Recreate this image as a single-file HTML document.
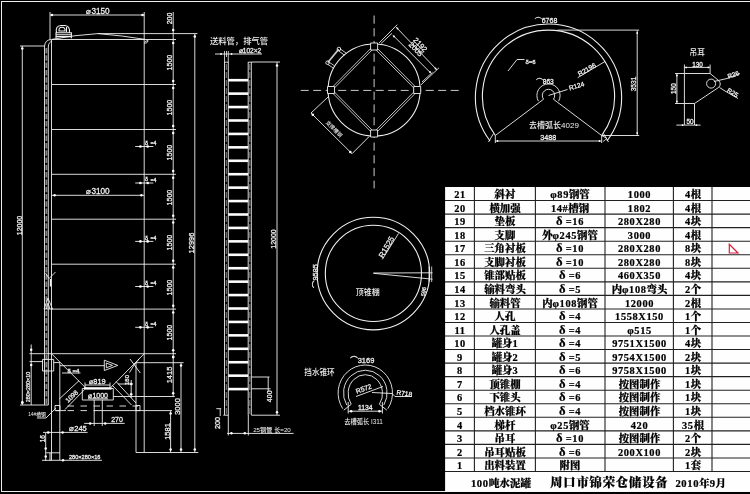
<!DOCTYPE html>
<html lang="zh"><head><meta charset="utf-8"><title>100吨水泥罐</title>
<style>
html,body{margin:0;padding:0;background:#000;}
body{width:750px;height:494px;overflow:hidden;}
svg{display:block;will-change:transform;opacity:0.999;}
text.d{font-family:"Liberation Sans","Noto Sans CJK SC",sans-serif;stroke:#f0f0f0;stroke-width:0.28px;}
text.dc{font-family:"Liberation Sans","Noto Sans CJK SC",sans-serif;font-weight:500;}
text.t{font-family:"Liberation Serif","Noto Serif CJK SC",serif;font-weight:900;stroke:#000;stroke-width:0.22px;}
text.t tspan.g{font-size:12.6px;}
</style></head><body>
<svg width="750" height="494" viewBox="0 0 750 494">
<rect width="750" height="494" fill="#000"/>
<g stroke="#e6e6e6" stroke-width="1" fill="none">
<line x1="1.00" y1="1.50" x2="750.00" y2="1.50" stroke="#eee"/>
<line x1="1.50" y1="1.00" x2="1.50" y2="492.00" stroke="#eee"/>
<line x1="1.00" y1="491.50" x2="750.00" y2="491.50" stroke="#eee"/>
</g>
<g stroke="#f2f2f2" stroke-width="0.9" fill="none" stroke-linecap="butt">
<line x1="51.50" y1="39.50" x2="51.50" y2="460.00"/>
<line x1="144.20" y1="12.00" x2="144.20" y2="452.50"/>
<line x1="50.00" y1="12.00" x2="50.00" y2="40.00"/>
<line x1="51.50" y1="39.50" x2="176.00" y2="39.50"/>
<line x1="51.50" y1="84.50" x2="176.00" y2="84.50"/>
<line x1="51.50" y1="129.50" x2="176.00" y2="129.50"/>
<line x1="51.50" y1="174.30" x2="176.00" y2="174.30"/>
<line x1="51.50" y1="219.20" x2="176.00" y2="219.20"/>
<line x1="51.50" y1="264.20" x2="176.00" y2="264.20"/>
<line x1="51.50" y1="309.10" x2="176.00" y2="309.10"/>
<line x1="29.50" y1="353.70" x2="176.00" y2="353.70"/>
<path d="M52,39.3 Q75,35 98,33.6 Q122,35.5 144.5,39.3"/>
<line x1="50.00" y1="15.00" x2="144.50" y2="15.00"/>
<circle cx="52.00" cy="15.00" r="1.25" fill="#fff" stroke="none"/>
<circle cx="142.50" cy="15.00" r="1.25" fill="#fff" stroke="none"/>
<line x1="51.70" y1="195.30" x2="144.20" y2="195.30"/>
<circle cx="54.60" cy="195.30" r="1.25" fill="#fff" stroke="none"/>
<circle cx="141.40" cy="195.30" r="1.25" fill="#fff" stroke="none"/>
<path d="M56,38.2 V32.8 H71.4 V38.2 M56,34.8 H71.4 M56,36.6 H71.4 M56.6,32.8 Q55,26 61,25.5 H65 Q70.2,26 69.4,32.8 M59,31 Q58.5,27.3 62,27.3 Q65.5,27.3 65,31 Z M66.5,27 V32" stroke-width="1.1"/>
<path d="M44.5,405 V47 Q44.5,39.8 51.5,39.5"/>
<path d="M48.3,405 V47 Q48.5,42 52,41.5"/>
<line x1="46.40" y1="48.00" x2="46.40" y2="405.00" stroke-width="1.9" stroke="#858585" stroke-dasharray="5.5 1.8"/>
<line x1="22.30" y1="46.00" x2="22.30" y2="405.00"/>
<line x1="20.00" y1="46.00" x2="44.50" y2="46.00"/>
<line x1="20.00" y1="405.00" x2="48.30" y2="405.00"/>
<circle cx="22.30" cy="48.50" r="1.25" fill="#fff" stroke="none"/>
<circle cx="22.30" cy="402.50" r="1.25" fill="#fff" stroke="none"/>
<line x1="173.20" y1="12.00" x2="173.20" y2="396.50"/>
<line x1="98.00" y1="33.60" x2="197.40" y2="33.60"/>
<circle cx="173.20" cy="42.90" r="1.25" fill="#fff" stroke="none"/>
<circle cx="173.20" cy="81.10" r="1.25" fill="#fff" stroke="none"/>
<circle cx="173.20" cy="87.90" r="1.25" fill="#fff" stroke="none"/>
<circle cx="173.20" cy="126.10" r="1.25" fill="#fff" stroke="none"/>
<circle cx="173.20" cy="132.90" r="1.25" fill="#fff" stroke="none"/>
<circle cx="173.20" cy="170.90" r="1.25" fill="#fff" stroke="none"/>
<circle cx="173.20" cy="177.70" r="1.25" fill="#fff" stroke="none"/>
<circle cx="173.20" cy="215.80" r="1.25" fill="#fff" stroke="none"/>
<circle cx="173.20" cy="222.60" r="1.25" fill="#fff" stroke="none"/>
<circle cx="173.20" cy="260.80" r="1.25" fill="#fff" stroke="none"/>
<circle cx="173.20" cy="267.60" r="1.25" fill="#fff" stroke="none"/>
<circle cx="173.20" cy="305.70" r="1.25" fill="#fff" stroke="none"/>
<circle cx="173.20" cy="312.50" r="1.25" fill="#fff" stroke="none"/>
<circle cx="173.20" cy="350.30" r="1.25" fill="#fff" stroke="none"/>
<circle cx="173.20" cy="357.10" r="1.25" fill="#fff" stroke="none"/>
<circle cx="173.20" cy="30.00" r="1.25" fill="#fff" stroke="none"/>
<path d="M144.5,43.5 Q145,40.5 148,40.5 Q148.5,42 145.5,43.5" stroke-width="0.9"/>
<line x1="135.20" y1="146.50" x2="153.40" y2="146.50"/>
<circle cx="140.40" cy="146.50" r="1.35" fill="#fff" stroke="none"/>
<circle cx="147.70" cy="146.50" r="1.35" fill="#fff" stroke="none"/>
<line x1="135.20" y1="183.00" x2="153.40" y2="183.00"/>
<circle cx="140.40" cy="183.00" r="1.35" fill="#fff" stroke="none"/>
<circle cx="147.70" cy="183.00" r="1.35" fill="#fff" stroke="none"/>
<line x1="135.20" y1="241.40" x2="153.40" y2="241.40"/>
<circle cx="140.40" cy="241.40" r="1.35" fill="#fff" stroke="none"/>
<circle cx="147.70" cy="241.40" r="1.35" fill="#fff" stroke="none"/>
<line x1="135.20" y1="286.50" x2="153.40" y2="286.50"/>
<circle cx="140.40" cy="286.50" r="1.35" fill="#fff" stroke="none"/>
<circle cx="147.70" cy="286.50" r="1.35" fill="#fff" stroke="none"/>
<line x1="135.20" y1="327.30" x2="153.40" y2="327.30"/>
<circle cx="140.40" cy="327.30" r="1.35" fill="#fff" stroke="none"/>
<circle cx="147.70" cy="327.30" r="1.35" fill="#fff" stroke="none"/>
<line x1="194.80" y1="33.70" x2="194.80" y2="452.30"/>
<circle cx="194.80" cy="36.50" r="1.25" fill="#fff" stroke="none"/>
<circle cx="194.80" cy="449.50" r="1.25" fill="#fff" stroke="none"/>
<path d="M44,309 L48,298 L52.5,309 Z M46.5,309 L48,303 L50,309"/>
<path d="M45.5,273 L49.1,278.5 L55.5,272"/>
<line x1="50.40" y1="279.00" x2="50.40" y2="286.50" stroke-width="1.2"/>
<line x1="51.50" y1="353.70" x2="85.30" y2="387.50"/>
<line x1="144.20" y1="353.70" x2="110.80" y2="387.50"/>
<path d="M59.5,398.8 L79.2,380.5 M65,409.5 L84.6,389.5"/>
<path d="M136,403 L116,381.5 M131.5,405 L112.5,385.5"/>
<path d="M82.3,388.5 H113.3 V400 H82.3 Z"/>
<line x1="84.00" y1="388.40" x2="111.50" y2="388.40" stroke-width="2.4" stroke="#fff"/>
<line x1="85.00" y1="385.00" x2="110.00" y2="385.00"/>
<line x1="85.00" y1="382.50" x2="85.00" y2="388.00"/>
<line x1="110.00" y1="382.50" x2="110.00" y2="388.00"/>
<line x1="113.30" y1="396.50" x2="174.80" y2="396.50"/>
<line x1="88.00" y1="398.80" x2="108.00" y2="398.80"/>
<line x1="67.50" y1="406.00" x2="138.00" y2="406.00" stroke-dasharray="6.5 6.5"/>
<line x1="56.00" y1="410.60" x2="66.00" y2="410.60"/>
<line x1="67.50" y1="410.60" x2="94.00" y2="410.60" stroke-dasharray="6.5 6.5"/>
<line x1="94.00" y1="410.60" x2="172.00" y2="410.60"/>
<path d="M55,405.5 H60 V410.6 H55 Z M136,405.5 H140 V410.6 H136 Z"/>
<line x1="59.80" y1="363.00" x2="59.80" y2="460.00"/>
<line x1="136.00" y1="362.70" x2="136.00" y2="452.50"/>
<line x1="136.00" y1="452.50" x2="198.30" y2="452.50"/>
<line x1="45.70" y1="452.80" x2="60.00" y2="452.80"/>
<line x1="42.00" y1="460.30" x2="102.00" y2="460.30"/>
<line x1="45.70" y1="433.00" x2="45.70" y2="461.00"/>
<circle cx="45.70" cy="448.50" r="1.25" fill="#fff" stroke="none"/>
<circle cx="45.70" cy="456.50" r="1.25" fill="#fff" stroke="none"/>
<circle cx="63.00" cy="460.30" r="1.25" fill="#fff" stroke="none"/>
<line x1="50.00" y1="452.80" x2="50.00" y2="461.00"/>
<path d="M42.5,359.4 H53.7 V371 H42.5 Z"/>
<line x1="29.50" y1="361.60" x2="42.50" y2="361.60"/>
<line x1="53.70" y1="362.60" x2="60.00" y2="362.60"/>
<line x1="60.00" y1="365.70" x2="104.50" y2="365.70"/>
<path d="M104.3,360.2 L117.8,365.4 L104.3,370.5 Z M106.3,363 L112.5,365.4 L106.3,367.8 Z"/>
<line x1="62.00" y1="373.00" x2="80.50" y2="373.00"/>
<path d="M130,359 L140.3,373 M139.6,358.3 L134.5,364.5 L129.5,372.5"/>
<line x1="131.20" y1="380.00" x2="131.20" y2="398.00"/>
<circle cx="131.20" cy="384.00" r="1.25" fill="#fff" stroke="none"/>
<circle cx="131.20" cy="394.20" r="1.25" fill="#fff" stroke="none"/>
<line x1="118.00" y1="384.00" x2="133.00" y2="384.00"/>
<line x1="31.20" y1="344.50" x2="31.20" y2="405.00"/>
<circle cx="31.20" cy="349.80" r="1.25" fill="#fff" stroke="none"/>
<circle cx="31.20" cy="365.00" r="1.25" fill="#fff" stroke="none"/>
<circle cx="22.30" cy="402.50" r="1.25" fill="#fff" stroke="none"/>
<path d="M37,418 H46 L56,408"/>
<line x1="84.20" y1="423.40" x2="124.70" y2="423.40"/>
<circle cx="90.20" cy="423.40" r="1.25" fill="#fff" stroke="none"/>
<circle cx="105.20" cy="423.40" r="1.25" fill="#fff" stroke="none"/>
<line x1="94.20" y1="400.00" x2="94.20" y2="426.00"/>
<line x1="102.30" y1="400.00" x2="102.30" y2="426.00"/>
<line x1="43.00" y1="432.40" x2="87.60" y2="432.40"/>
<circle cx="48.20" cy="432.40" r="1.25" fill="#fff" stroke="none"/>
<circle cx="62.60" cy="432.40" r="1.25" fill="#fff" stroke="none"/>
<line x1="136.00" y1="362.70" x2="183.60" y2="362.70"/>
<line x1="181.00" y1="362.70" x2="181.00" y2="452.30"/>
<circle cx="181.00" cy="365.50" r="1.25" fill="#fff" stroke="none"/>
<circle cx="181.00" cy="449.50" r="1.25" fill="#fff" stroke="none"/>
<line x1="170.60" y1="410.60" x2="170.60" y2="452.30"/>
<circle cx="170.60" cy="413.50" r="1.25" fill="#fff" stroke="none"/>
<circle cx="170.60" cy="449.50" r="1.25" fill="#fff" stroke="none"/>
<circle cx="173.20" cy="393.30" r="1.25" fill="#fff" stroke="none"/>
<circle cx="173.20" cy="357.00" r="1.25" fill="#fff" stroke="none"/>
<line x1="224.50" y1="62.00" x2="224.50" y2="415.00"/>
<line x1="228.30" y1="62.00" x2="228.30" y2="415.00"/>
<line x1="248.20" y1="62.00" x2="248.20" y2="415.00"/>
<line x1="251.30" y1="62.00" x2="251.30" y2="415.00"/>
<line x1="226.40" y1="64.00" x2="226.40" y2="415.00" stroke-width="1.4" stroke="#6a6a6a" stroke-dasharray="6 2"/>
<line x1="249.80" y1="64.00" x2="249.80" y2="415.00" stroke-width="1.3" stroke="#6a6a6a" stroke-dasharray="6 2"/>
<line x1="228.30" y1="80.20" x2="248.20" y2="80.20" stroke-width="2.6" stroke="#fff"/>
<line x1="228.30" y1="93.63" x2="248.20" y2="93.63" stroke-width="2.6" stroke="#fff"/>
<line x1="228.30" y1="107.06" x2="248.20" y2="107.06" stroke-width="2.6" stroke="#fff"/>
<line x1="228.30" y1="120.49" x2="248.20" y2="120.49" stroke-width="2.6" stroke="#fff"/>
<line x1="228.30" y1="133.92" x2="248.20" y2="133.92" stroke-width="2.6" stroke="#fff"/>
<line x1="228.30" y1="147.35" x2="248.20" y2="147.35" stroke-width="2.6" stroke="#fff"/>
<line x1="228.30" y1="160.78" x2="248.20" y2="160.78" stroke-width="2.6" stroke="#fff"/>
<line x1="228.30" y1="174.21" x2="248.20" y2="174.21" stroke-width="2.6" stroke="#fff"/>
<line x1="228.30" y1="187.64" x2="248.20" y2="187.64" stroke-width="2.6" stroke="#fff"/>
<line x1="228.30" y1="201.07" x2="248.20" y2="201.07" stroke-width="2.6" stroke="#fff"/>
<line x1="228.30" y1="214.50" x2="248.20" y2="214.50" stroke-width="2.6" stroke="#fff"/>
<line x1="228.30" y1="227.93" x2="248.20" y2="227.93" stroke-width="2.6" stroke="#fff"/>
<line x1="228.30" y1="241.36" x2="248.20" y2="241.36" stroke-width="2.6" stroke="#fff"/>
<line x1="228.30" y1="254.79" x2="248.20" y2="254.79" stroke-width="2.6" stroke="#fff"/>
<line x1="228.30" y1="268.22" x2="248.20" y2="268.22" stroke-width="2.6" stroke="#fff"/>
<line x1="228.30" y1="281.65" x2="248.20" y2="281.65" stroke-width="2.6" stroke="#fff"/>
<line x1="228.30" y1="295.08" x2="248.20" y2="295.08" stroke-width="2.6" stroke="#fff"/>
<line x1="228.30" y1="308.51" x2="248.20" y2="308.51" stroke-width="2.6" stroke="#fff"/>
<line x1="228.30" y1="321.94" x2="248.20" y2="321.94" stroke-width="2.6" stroke="#fff"/>
<line x1="228.30" y1="335.37" x2="248.20" y2="335.37" stroke-width="2.6" stroke="#fff"/>
<line x1="228.30" y1="348.80" x2="248.20" y2="348.80" stroke-width="2.6" stroke="#fff"/>
<line x1="228.30" y1="362.23" x2="248.20" y2="362.23" stroke-width="2.6" stroke="#fff"/>
<line x1="228.30" y1="375.66" x2="248.20" y2="375.66" stroke-width="2.6" stroke="#fff"/>
<line x1="228.30" y1="389.09" x2="248.20" y2="389.09" stroke-width="2.6" stroke="#fff"/>
<line x1="215.00" y1="54.00" x2="262.00" y2="54.00"/>
<path d="M224.5,51 V62 M226.5,51 V57 M228.3,51 V62" stroke-width="0.8"/>
<circle cx="221.00" cy="54.00" r="0.90" fill="#fff" stroke="none"/>
<circle cx="231.50" cy="54.00" r="0.90" fill="#fff" stroke="none"/>
<line x1="251.30" y1="62.00" x2="280.00" y2="62.00"/>
<line x1="277.00" y1="62.00" x2="277.00" y2="415.20"/>
<circle cx="277.00" cy="65.50" r="1.25" fill="#fff" stroke="none"/>
<circle cx="277.00" cy="412.30" r="1.25" fill="#fff" stroke="none"/>
<line x1="251.30" y1="415.20" x2="280.00" y2="415.20"/>
<line x1="223.30" y1="415.20" x2="228.30" y2="415.20"/>
<line x1="224.50" y1="62.20" x2="228.30" y2="62.20"/>
<line x1="248.20" y1="62.20" x2="251.30" y2="62.20"/>
<line x1="228.30" y1="415.00" x2="228.30" y2="435.50"/>
<line x1="248.30" y1="415.00" x2="248.30" y2="435.50"/>
<line x1="227.00" y1="433.40" x2="293.60" y2="433.40"/>
<circle cx="231.40" cy="433.20" r="1.25" fill="#fff" stroke="none"/>
<circle cx="244.80" cy="433.20" r="1.25" fill="#fff" stroke="none"/>
<line x1="251.30" y1="377.00" x2="269.50" y2="377.00"/>
<line x1="251.30" y1="388.80" x2="270.60" y2="388.80"/>
<line x1="268.20" y1="377.00" x2="268.20" y2="391.50"/>
<line x1="220.20" y1="408.70" x2="220.20" y2="416.00"/>
<path d="M216.3,408.7 H221.2"/>
<circle cx="374.10" cy="90.00" r="46.00" stroke-width="1.05"/>
<line x1="300.70" y1="90.40" x2="462.00" y2="90.40" stroke-width="0.85" stroke-dasharray="8 4.5"/>
<line x1="374.10" y1="15.50" x2="374.10" y2="188.40" stroke-width="0.85" stroke-dasharray="8.2 4.5"/>
<line x1="373.39" y1="45.80" x2="330.29" y2="89.30" stroke-width="0.8"/>
<line x1="374.81" y1="47.20" x2="331.71" y2="90.70" stroke-width="0.8"/>
<line x1="373.39" y1="47.20" x2="416.49" y2="90.70" stroke-width="0.8"/>
<line x1="374.81" y1="45.80" x2="417.91" y2="89.30" stroke-width="0.8"/>
<line x1="374.81" y1="132.80" x2="331.71" y2="89.30" stroke-width="0.8"/>
<line x1="373.39" y1="134.20" x2="330.29" y2="90.70" stroke-width="0.8"/>
<line x1="374.81" y1="134.20" x2="417.91" y2="90.70" stroke-width="0.8"/>
<line x1="373.39" y1="132.80" x2="416.49" y2="89.30" stroke-width="0.8"/>
<path d="M370.6,43.0 h7 v7 h-7 Z" fill="#000"/>
<path d="M327.5,86.5 h7 v7 h-7 Z" fill="#000"/>
<path d="M413.7,86.5 h7 v7 h-7 Z" fill="#000"/>
<path d="M370.6,130.0 h7 v7 h-7 Z" fill="#000"/>
<line x1="379.00" y1="43.00" x2="397.20" y2="24.70"/>
<line x1="421.00" y1="84.80" x2="439.00" y2="67.80"/>
<line x1="381.00" y1="43.50" x2="392.00" y2="33.30"/>
<line x1="422.00" y1="82.00" x2="432.50" y2="72.30"/>
<line x1="396.00" y1="27.00" x2="437.00" y2="70.00"/>
<line x1="392.70" y1="35.00" x2="431.20" y2="73.50"/>
<circle cx="397.50" cy="28.50" r="0.90" fill="#fff" stroke="none"/>
<circle cx="435.50" cy="68.50" r="0.90" fill="#fff" stroke="none"/>
<circle cx="394.00" cy="36.50" r="0.90" fill="#fff" stroke="none"/>
<circle cx="430.00" cy="72.00" r="0.90" fill="#fff" stroke="none"/>
<line x1="328.00" y1="97.00" x2="311.00" y2="113.00"/>
<line x1="369.00" y1="136.70" x2="352.00" y2="153.70"/>
<line x1="311.00" y1="113.00" x2="352.00" y2="153.70"/>
<circle cx="312.80" cy="114.80" r="1.30" fill="#fff" stroke="none"/>
<circle cx="350.30" cy="152.00" r="1.30" fill="#fff" stroke="none"/>
<line x1="338.70" y1="49.20" x2="327.80" y2="62.50" stroke-width="1.8" stroke="#c8c8c8"/>
<circle cx="338.90" cy="49.00" r="1.80" stroke-width="0.9"/>
<circle cx="327.60" cy="62.70" r="1.80" stroke-width="0.9"/>
<line x1="338.64" y1="50.96" x2="344.64" y2="55.26" stroke-width="0.8"/>
<line x1="340.16" y1="48.84" x2="346.16" y2="53.14" stroke-width="0.8"/>
<line x1="327.66" y1="64.27" x2="333.16" y2="68.07" stroke-width="0.8"/>
<line x1="329.14" y1="62.13" x2="334.64" y2="65.93" stroke-width="0.8"/>
<path d="M495.33,135.48 A66.10,66.10 0 1 1 601.67,135.48" stroke-width="1.1"/>
<path d="M490.03,140.98 A73.10,73.10 0 1 1 606.97,140.98" stroke-width="1.1"/>
<line x1="543.60" y1="99.20" x2="495.30" y2="135.50"/>
<line x1="553.40" y1="99.20" x2="601.70" y2="135.50"/>
<path d="M543.54,99.23 A6.20,6.20 0 1 1 553.46,99.23"/>
<path d="M538.35,101.11 A11.60,11.60 0 1 1 558.65,101.11"/>
<path d="M493.5,133.5 L488.5,142 M603.5,133.5 L608.5,142"/>
<path d="M601.7,135.5 L607,138.5 L603,141.5" stroke-width="0.8"/>
<line x1="495.30" y1="141.00" x2="601.70" y2="141.00"/>
<line x1="495.30" y1="135.50" x2="495.30" y2="143.00"/>
<line x1="601.70" y1="135.50" x2="601.70" y2="143.00"/>
<circle cx="497.50" cy="141.00" r="0.90" fill="#fff" stroke="none"/>
<circle cx="599.50" cy="141.00" r="0.90" fill="#fff" stroke="none"/>
<line x1="557.40" y1="30.10" x2="639.20" y2="30.10"/>
<line x1="601.70" y1="135.50" x2="639.20" y2="135.50"/>
<line x1="637.20" y1="30.30" x2="637.20" y2="135.50"/>
<circle cx="637.20" cy="33.00" r="0.90" fill="#fff" stroke="none"/>
<circle cx="637.20" cy="133.00" r="0.90" fill="#fff" stroke="none"/>
<line x1="548.50" y1="95.50" x2="567.50" y2="89.50"/>
<line x1="577.70" y1="77.70" x2="605.00" y2="61.50"/>
<path d="M508,71 L517,59.5 H524.5"/>
<path d="M684.4,125 V73.5 H710.1 L718.6,80.5 Q722,84 718.5,87.5 L694.5,103.5 H684.4 M694.5,103.5 V125"/>
<circle cx="711.10" cy="83.60" r="4.50"/>
<line x1="684.40" y1="67.40" x2="710.10" y2="67.40"/>
<line x1="684.40" y1="64.50" x2="684.40" y2="73.50"/>
<line x1="710.10" y1="64.50" x2="710.10" y2="73.50"/>
<circle cx="686.20" cy="67.40" r="0.90" fill="#fff" stroke="none"/>
<circle cx="708.30" cy="67.40" r="0.90" fill="#fff" stroke="none"/>
<line x1="676.90" y1="73.50" x2="676.90" y2="103.50"/>
<line x1="675.00" y1="73.50" x2="684.40" y2="73.50"/>
<line x1="675.00" y1="103.50" x2="684.40" y2="103.50"/>
<circle cx="676.90" cy="75.50" r="0.90" fill="#fff" stroke="none"/>
<circle cx="676.90" cy="101.50" r="0.90" fill="#fff" stroke="none"/>
<line x1="676.30" y1="125.10" x2="700.60" y2="125.10"/>
<circle cx="682.50" cy="125.10" r="0.90" fill="#fff" stroke="none"/>
<circle cx="696.40" cy="125.10" r="0.90" fill="#fff" stroke="none"/>
<line x1="714.00" y1="81.50" x2="727.00" y2="78.50"/>
<line x1="727.00" y1="78.50" x2="740.00" y2="73.50"/>
<line x1="719.50" y1="87.50" x2="725.00" y2="91.00"/>
<line x1="725.00" y1="91.00" x2="738.00" y2="98.50"/>
<circle cx="373.40" cy="273.40" r="48.10" stroke-width="1.1"/>
<circle cx="373.40" cy="273.60" r="56.30" stroke-width="1.1"/>
<line x1="373.40" y1="273.00" x2="432.50" y2="272.80"/>
<line x1="373.40" y1="273.30" x2="432.50" y2="279.20"/>
<path d="M429,266.5 V282 M431.7,266.5 V282" stroke-width="0.8"/>
<line x1="382.30" y1="259.40" x2="398.50" y2="233.50"/>
<path d="M351.21,404.28 A17.20,18.80 0 1 1 379.39,404.28"/>
<path d="M346.81,405.08 A21.80,22.80 0 1 1 383.79,405.08"/>
<path d="M342.75,408.66 A27.20,28.00 0 1 1 387.85,408.66"/>
<line x1="351.21" y1="404.28" x2="343.75" y2="410.16"/>
<line x1="379.39" y1="404.28" x2="386.85" y2="410.16"/>
<line x1="348.20" y1="402.00" x2="348.20" y2="413.50"/>
<line x1="382.40" y1="402.00" x2="382.40" y2="413.50"/>
<line x1="348.20" y1="411.20" x2="382.40" y2="411.20"/>
<circle cx="351.20" cy="411.20" r="1.25" fill="#fff" stroke="none"/>
<circle cx="379.40" cy="411.20" r="1.25" fill="#fff" stroke="none"/>
<line x1="356.00" y1="396.50" x2="383.00" y2="386.50"/>
<path d="M372,392.5 L392,393.5 L395,396.5 H412"/>
</g>
<g fill="#f0f0f0">
<text class="d" x="98.00" y="14.00" font-size="8.2" text-anchor="middle">⌀3150</text>
<text class="d" x="98.00" y="194.00" font-size="8.2" text-anchor="middle">⌀3100</text>
<text class="d" x="21.50" y="225.50" font-size="7" text-anchor="middle" transform="rotate(-90 21.50 225.50)">12000</text>
<text class="d" x="172.00" y="18.50" font-size="7" text-anchor="middle" transform="rotate(-90 172.00 18.50)">200</text>
<text class="d" x="172.00" y="62.60" font-size="7" text-anchor="middle" transform="rotate(-90 172.00 62.60)">1500</text>
<text class="d" x="172.00" y="107.60" font-size="7" text-anchor="middle" transform="rotate(-90 172.00 107.60)">1500</text>
<text class="d" x="172.00" y="152.60" font-size="7" text-anchor="middle" transform="rotate(-90 172.00 152.60)">1500</text>
<text class="d" x="172.00" y="197.60" font-size="7" text-anchor="middle" transform="rotate(-90 172.00 197.60)">1500</text>
<text class="d" x="172.00" y="242.60" font-size="7" text-anchor="middle" transform="rotate(-90 172.00 242.60)">1500</text>
<text class="d" x="172.00" y="287.60" font-size="7" text-anchor="middle" transform="rotate(-90 172.00 287.60)">1500</text>
<text class="d" x="172.00" y="332.60" font-size="7" text-anchor="middle" transform="rotate(-90 172.00 332.60)">1500</text>
<text class="d" x="171.50" y="375.00" font-size="7.5" text-anchor="middle" transform="rotate(-90 171.50 375.00)">1415</text>
<text class="d" x="180.00" y="406.50" font-size="7.5" text-anchor="middle" transform="rotate(-90 180.00 406.50)">3000</text>
<text class="d" x="169.50" y="431.50" font-size="7.5" text-anchor="middle" transform="rotate(-90 169.50 431.50)">1581</text>
<text class="d" x="194.00" y="243.00" font-size="7.5" text-anchor="middle" transform="rotate(-90 194.00 243.00)">12996</text>
<text class="d" x="146.60" y="144.70" font-size="5.4" text-anchor="middle">δ</text>
<text class="d" x="153.40" y="145.10" font-size="5.2" text-anchor="middle">=4</text>
<text class="d" x="146.60" y="181.20" font-size="5.4" text-anchor="middle">δ</text>
<text class="d" x="153.40" y="181.60" font-size="5.2" text-anchor="middle">=4</text>
<text class="d" x="146.60" y="239.60" font-size="5.4" text-anchor="middle">δ</text>
<text class="d" x="153.40" y="240.00" font-size="5.2" text-anchor="middle">=4</text>
<text class="d" x="146.60" y="284.70" font-size="5.4" text-anchor="middle">δ</text>
<text class="d" x="153.40" y="285.10" font-size="5.2" text-anchor="middle">=4</text>
<text class="d" x="146.60" y="325.50" font-size="5.4" text-anchor="middle">δ</text>
<text class="d" x="153.40" y="325.90" font-size="5.2" text-anchor="middle">=4</text>
<text class="d" x="67.60" y="372.60" font-size="6" text-anchor="start">δ =4</text>
<text class="d" x="97.50" y="384.30" font-size="7.4" text-anchor="middle">⌀819</text>
<text class="d" x="98.20" y="398.30" font-size="7" text-anchor="middle">⌀1000</text>
<text class="d" x="117.00" y="422.30" font-size="7" text-anchor="middle">270</text>
<text class="d" x="78.00" y="431.30" font-size="7.5" text-anchor="middle">⌀245</text>
<text class="d" x="84.70" y="458.80" font-size="5.6" text-anchor="middle">280×280×16</text>
<text class="d" x="45.00" y="438.70" font-size="6.6" text-anchor="middle" transform="rotate(-90 45.00 438.70)">16</text>
<text class="d" x="30.00" y="387.00" font-size="5.4" text-anchor="middle" transform="rotate(-90 30.00 387.00)">280×280×10</text>
<text class="dc" x="37.00" y="416.00" font-size="4.8" text-anchor="middle">14#槽钢</text>
<text class="d" x="73.30" y="398.00" font-size="6.6" text-anchor="middle" transform="rotate(-44 73.30 398.00)">1098</text>
<text class="d" x="128.60" y="380.00" font-size="6" text-anchor="middle" transform="rotate(-90 128.60 380.00)">180</text>
<text class="dc" x="239.00" y="44.30" font-size="8.3" text-anchor="middle">送料管，排气管</text>
<text class="d" x="250.00" y="53.00" font-size="6.6" text-anchor="middle">⌀102×2</text>
<text class="d" x="271.60" y="396.30" font-size="7" text-anchor="middle" transform="rotate(-90 271.60 396.30)">400</text>
<text class="d" x="219.80" y="423.00" font-size="7.2" text-anchor="middle" transform="rotate(-90 219.80 423.00)">200</text>
<text class="dc" x="272.00" y="432.00" font-size="6.2" text-anchor="middle">25钢管 长=20</text>
<text class="d" x="276.30" y="239.00" font-size="7" text-anchor="middle" transform="rotate(-90 276.30 239.00)">12000</text>
<text class="d" x="418.50" y="46.50" font-size="7.4" text-anchor="middle" transform="rotate(46 418.50 46.50)">2192</text>
<text class="d" x="414.00" y="51.00" font-size="7.4" text-anchor="middle" transform="rotate(46 414.00 51.00)">2005</text>
<text class="dc" x="332.80" y="130.30" font-size="5.2" text-anchor="middle" transform="rotate(45 332.80 130.30)" font-weight="bold">支撑槽钢</text>
<text class="d" x="546.00" y="23.00" font-size="7" text-anchor="middle">⌒6768</text>
<text class="d" x="530.50" y="63.80" font-size="6" text-anchor="middle">δ=6</text>
<text class="d" x="545.00" y="83.50" font-size="6.6" text-anchor="middle">⌒863</text>
<text class="d" x="577.30" y="88.20" font-size="6.6" text-anchor="middle" transform="rotate(-17 577.30 88.20)">R124</text>
<text class="d" x="588.00" y="71.50" font-size="6.6" text-anchor="middle" transform="rotate(-29 588.00 71.50)">R2196</text>
<text class="dc" x="554.00" y="127.80" font-size="8" text-anchor="middle">去槽弧长4029</text>
<text class="d" x="548.30" y="140.00" font-size="7.2" text-anchor="middle">3488</text>
<text class="d" x="636.00" y="84.00" font-size="6.6" text-anchor="middle" transform="rotate(-90 636.00 84.00)">3531</text>
<text class="dc" x="697.20" y="54.80" font-size="7.6" text-anchor="middle">吊耳</text>
<text class="d" x="697.50" y="66.80" font-size="6.4" text-anchor="middle">130</text>
<text class="d" x="676.20" y="88.60" font-size="6.4" text-anchor="middle" transform="rotate(-90 676.20 88.60)">150</text>
<text class="d" x="690.00" y="124.20" font-size="6.4" text-anchor="middle">50</text>
<text class="d" x="734.00" y="76.80" font-size="6.4" text-anchor="middle" transform="rotate(-20 734.00 76.80)">R26</text>
<text class="d" x="731.50" y="94.50" font-size="6.4" text-anchor="middle" transform="rotate(32 731.50 94.50)">R25</text>
<text class="d" x="388.80" y="248.50" font-size="7.8" text-anchor="middle" transform="rotate(-60 388.80 248.50)">R1525</text>
<text class="d" x="317.60" y="276.00" font-size="7.4" text-anchor="middle" transform="rotate(-90 317.60 276.00)">⌒9585</text>
<text class="dc" x="367.80" y="294.50" font-size="8" text-anchor="middle">顶锥棚</text>
<text class="d" x="425.50" y="292.00" font-size="5.6" text-anchor="middle" transform="rotate(-80 425.50 292.00)">596</text>
<text class="dc" x="319.50" y="374.80" font-size="7.6" text-anchor="middle">挡水锥环</text>
<text class="d" x="362.30" y="363.40" font-size="7.5" text-anchor="middle">⌒3169</text>
<text class="d" x="364.50" y="391.00" font-size="6.8" text-anchor="middle" transform="rotate(-19 364.50 391.00)">R572</text>
<text class="d" x="404.00" y="395.70" font-size="6.6" text-anchor="middle" transform="rotate(8 404.00 395.70)">R718</text>
<text class="d" x="365.30" y="410.00" font-size="6.8" text-anchor="middle">1134</text>
<text class="dc" x="363.50" y="423.50" font-size="6.3" text-anchor="middle">去槽弧长 I311</text>
</g>
<rect x="445.1" y="187" width="305" height="304.5" fill="#fff"/>
<g stroke="#222" stroke-width="1.1">
<line x1="445.00" y1="200.55" x2="750.00" y2="200.55"/>
<line x1="445.00" y1="214.10" x2="750.00" y2="214.10"/>
<line x1="445.00" y1="227.64" x2="750.00" y2="227.64"/>
<line x1="445.00" y1="241.19" x2="750.00" y2="241.19"/>
<line x1="445.00" y1="254.74" x2="750.00" y2="254.74"/>
<line x1="445.00" y1="268.29" x2="750.00" y2="268.29"/>
<line x1="445.00" y1="281.83" x2="750.00" y2="281.83"/>
<line x1="445.00" y1="295.38" x2="750.00" y2="295.38"/>
<line x1="445.00" y1="308.93" x2="750.00" y2="308.93"/>
<line x1="445.00" y1="322.48" x2="750.00" y2="322.48"/>
<line x1="445.00" y1="336.02" x2="750.00" y2="336.02"/>
<line x1="445.00" y1="349.57" x2="750.00" y2="349.57"/>
<line x1="445.00" y1="363.12" x2="750.00" y2="363.12"/>
<line x1="445.00" y1="376.67" x2="750.00" y2="376.67"/>
<line x1="445.00" y1="390.21" x2="750.00" y2="390.21"/>
<line x1="445.00" y1="403.76" x2="750.00" y2="403.76"/>
<line x1="445.00" y1="417.31" x2="750.00" y2="417.31"/>
<line x1="445.00" y1="430.86" x2="750.00" y2="430.86"/>
<line x1="445.00" y1="444.40" x2="750.00" y2="444.40"/>
<line x1="445.00" y1="457.95" x2="750.00" y2="457.95"/>
<line x1="445.00" y1="471.50" x2="750.00" y2="471.50"/>
<line x1="474.40" y1="187.00" x2="474.40" y2="471.50"/>
<line x1="535.40" y1="187.00" x2="535.40" y2="471.50"/>
<line x1="605.00" y1="187.00" x2="605.00" y2="471.50"/>
<line x1="673.40" y1="187.00" x2="673.40" y2="471.50"/>
<line x1="712.00" y1="187.00" x2="712.00" y2="471.50"/>
</g>
<g class="tb" fill="#000">
<text class="t" x="460.00" y="198.20" font-size="10.4" text-anchor="middle"><tspan letter-spacing="0.62">21</tspan></text>
<text class="t" x="505.00" y="198.20" font-size="10.4" text-anchor="middle">斜衬</text>
<text class="t" x="570.00" y="198.20" font-size="10.4" text-anchor="middle"><tspan letter-spacing="0.62">φ89</tspan>钢管</text>
<text class="t" x="639.50" y="198.20" font-size="10.4" text-anchor="middle"><tspan letter-spacing="0.62">1000</tspan></text>
<text class="t" x="693.00" y="198.20" font-size="10.4" text-anchor="middle"><tspan letter-spacing="0.62">4</tspan>根</text>
<text class="t" x="460.00" y="211.75" font-size="10.4" text-anchor="middle"><tspan letter-spacing="0.62">20</tspan></text>
<text class="t" x="505.00" y="211.75" font-size="10.4" text-anchor="middle">横加强</text>
<text class="t" x="570.00" y="211.75" font-size="10.4" text-anchor="middle"><tspan letter-spacing="0.62">14#</tspan>槽钢</text>
<text class="t" x="639.50" y="211.75" font-size="10.4" text-anchor="middle"><tspan letter-spacing="0.62">1802</tspan></text>
<text class="t" x="693.00" y="211.75" font-size="10.4" text-anchor="middle"><tspan letter-spacing="0.62">4</tspan>根</text>
<text class="t" x="460.00" y="225.30" font-size="10.4" text-anchor="middle"><tspan letter-spacing="0.62">19</tspan></text>
<text class="t" x="505.00" y="225.30" font-size="10.4" text-anchor="middle">垫板</text>
<text class="t" x="570.00" y="225.30" font-size="10.4" text-anchor="middle"><tspan class="g">δ</tspan><tspan letter-spacing="0.62"> =16</tspan></text>
<text class="t" x="639.50" y="225.30" font-size="10.4" text-anchor="middle"><tspan letter-spacing="0.62">280X280</tspan></text>
<text class="t" x="693.00" y="225.30" font-size="10.4" text-anchor="middle"><tspan letter-spacing="0.62">4</tspan>块</text>
<text class="t" x="460.00" y="238.84" font-size="10.4" text-anchor="middle"><tspan letter-spacing="0.62">18</tspan></text>
<text class="t" x="505.00" y="238.84" font-size="10.4" text-anchor="middle">支脚</text>
<text class="t" x="570.00" y="238.84" font-size="10.4" text-anchor="middle">外<tspan letter-spacing="0.62">φ245</tspan>钢管</text>
<text class="t" x="639.50" y="238.84" font-size="10.4" text-anchor="middle"><tspan letter-spacing="0.62">3000</tspan></text>
<text class="t" x="693.00" y="238.84" font-size="10.4" text-anchor="middle"><tspan letter-spacing="0.62">4</tspan>根</text>
<text class="t" x="460.00" y="252.39" font-size="10.4" text-anchor="middle"><tspan letter-spacing="0.62">17</tspan></text>
<text class="t" x="505.00" y="252.39" font-size="10.4" text-anchor="middle">三角衬板</text>
<text class="t" x="570.00" y="252.39" font-size="10.4" text-anchor="middle"><tspan class="g">δ</tspan><tspan letter-spacing="0.62"> =10</tspan></text>
<text class="t" x="639.50" y="252.39" font-size="10.4" text-anchor="middle"><tspan letter-spacing="0.62">280X280</tspan></text>
<text class="t" x="693.00" y="252.39" font-size="10.4" text-anchor="middle"><tspan letter-spacing="0.62">8</tspan>块</text>
<text class="t" x="460.00" y="265.94" font-size="10.4" text-anchor="middle"><tspan letter-spacing="0.62">16</tspan></text>
<text class="t" x="505.00" y="265.94" font-size="10.4" text-anchor="middle">支脚衬板</text>
<text class="t" x="570.00" y="265.94" font-size="10.4" text-anchor="middle"><tspan class="g">δ</tspan><tspan letter-spacing="0.62"> =10</tspan></text>
<text class="t" x="639.50" y="265.94" font-size="10.4" text-anchor="middle"><tspan letter-spacing="0.62">280X280</tspan></text>
<text class="t" x="693.00" y="265.94" font-size="10.4" text-anchor="middle"><tspan letter-spacing="0.62">8</tspan>块</text>
<text class="t" x="460.00" y="279.49" font-size="10.4" text-anchor="middle"><tspan letter-spacing="0.62">15</tspan></text>
<text class="t" x="505.00" y="279.49" font-size="10.4" text-anchor="middle">锥部贴板</text>
<text class="t" x="570.00" y="279.49" font-size="10.4" text-anchor="middle"><tspan class="g">δ</tspan><tspan letter-spacing="0.62"> =6</tspan></text>
<text class="t" x="639.50" y="279.49" font-size="10.4" text-anchor="middle"><tspan letter-spacing="0.62">460X350</tspan></text>
<text class="t" x="693.00" y="279.49" font-size="10.4" text-anchor="middle"><tspan letter-spacing="0.62">4</tspan>块</text>
<text class="t" x="460.00" y="293.03" font-size="10.4" text-anchor="middle"><tspan letter-spacing="0.62">14</tspan></text>
<text class="t" x="505.00" y="293.03" font-size="10.4" text-anchor="middle">输料弯头</text>
<text class="t" x="570.00" y="293.03" font-size="10.4" text-anchor="middle"><tspan class="g">δ</tspan><tspan letter-spacing="0.62"> =5</tspan></text>
<text class="t" x="639.50" y="293.03" font-size="10.4" text-anchor="middle">内<tspan letter-spacing="0.62">φ108</tspan>弯头</text>
<text class="t" x="693.00" y="293.03" font-size="10.4" text-anchor="middle"><tspan letter-spacing="0.62">2</tspan>个</text>
<text class="t" x="460.00" y="306.58" font-size="10.4" text-anchor="middle"><tspan letter-spacing="0.62">13</tspan></text>
<text class="t" x="505.00" y="306.58" font-size="10.4" text-anchor="middle">输料管</text>
<text class="t" x="570.00" y="306.58" font-size="10.4" text-anchor="middle">内<tspan letter-spacing="0.62">φ108</tspan>钢管</text>
<text class="t" x="639.50" y="306.58" font-size="10.4" text-anchor="middle"><tspan letter-spacing="0.62">12000</tspan></text>
<text class="t" x="693.00" y="306.58" font-size="10.4" text-anchor="middle"><tspan letter-spacing="0.62">2</tspan>根</text>
<text class="t" x="460.00" y="320.13" font-size="10.4" text-anchor="middle"><tspan letter-spacing="0.62">12</tspan></text>
<text class="t" x="505.00" y="320.13" font-size="10.4" text-anchor="middle">人孔</text>
<text class="t" x="570.00" y="320.13" font-size="10.4" text-anchor="middle"><tspan class="g">δ</tspan><tspan letter-spacing="0.62"> =4</tspan></text>
<text class="t" x="639.50" y="320.13" font-size="10.4" text-anchor="middle"><tspan letter-spacing="0.62">1558X150</tspan></text>
<text class="t" x="693.00" y="320.13" font-size="10.4" text-anchor="middle"><tspan letter-spacing="0.62">1</tspan>个</text>
<text class="t" x="460.00" y="333.68" font-size="10.4" text-anchor="middle"><tspan letter-spacing="0.62">11</tspan></text>
<text class="t" x="505.00" y="333.68" font-size="10.4" text-anchor="middle">人孔盖</text>
<text class="t" x="570.00" y="333.68" font-size="10.4" text-anchor="middle"><tspan class="g">δ</tspan><tspan letter-spacing="0.62"> =4</tspan></text>
<text class="t" x="639.50" y="333.68" font-size="10.4" text-anchor="middle"><tspan letter-spacing="0.62">φ515</tspan></text>
<text class="t" x="693.00" y="333.68" font-size="10.4" text-anchor="middle"><tspan letter-spacing="0.62">1</tspan>个</text>
<text class="t" x="460.00" y="347.22" font-size="10.4" text-anchor="middle"><tspan letter-spacing="0.62">10</tspan></text>
<text class="t" x="505.00" y="347.22" font-size="10.4" text-anchor="middle">罐身<tspan letter-spacing="0.62">1</tspan></text>
<text class="t" x="570.00" y="347.22" font-size="10.4" text-anchor="middle"><tspan class="g">δ</tspan><tspan letter-spacing="0.62"> =4</tspan></text>
<text class="t" x="639.50" y="347.22" font-size="10.4" text-anchor="middle"><tspan letter-spacing="0.62">9751X1500</tspan></text>
<text class="t" x="693.00" y="347.22" font-size="10.4" text-anchor="middle"><tspan letter-spacing="0.62">4</tspan>块</text>
<text class="t" x="460.00" y="360.77" font-size="10.4" text-anchor="middle"><tspan letter-spacing="0.62">9</tspan></text>
<text class="t" x="505.00" y="360.77" font-size="10.4" text-anchor="middle">罐身<tspan letter-spacing="0.62">2</tspan></text>
<text class="t" x="570.00" y="360.77" font-size="10.4" text-anchor="middle"><tspan class="g">δ</tspan><tspan letter-spacing="0.62"> =5</tspan></text>
<text class="t" x="639.50" y="360.77" font-size="10.4" text-anchor="middle"><tspan letter-spacing="0.62">9754X1500</tspan></text>
<text class="t" x="693.00" y="360.77" font-size="10.4" text-anchor="middle"><tspan letter-spacing="0.62">2</tspan>块</text>
<text class="t" x="460.00" y="374.32" font-size="10.4" text-anchor="middle"><tspan letter-spacing="0.62">8</tspan></text>
<text class="t" x="505.00" y="374.32" font-size="10.4" text-anchor="middle">罐身<tspan letter-spacing="0.62">3</tspan></text>
<text class="t" x="570.00" y="374.32" font-size="10.4" text-anchor="middle"><tspan class="g">δ</tspan><tspan letter-spacing="0.62"> =6</tspan></text>
<text class="t" x="639.50" y="374.32" font-size="10.4" text-anchor="middle"><tspan letter-spacing="0.62">9758X1500</tspan></text>
<text class="t" x="693.00" y="374.32" font-size="10.4" text-anchor="middle"><tspan letter-spacing="0.62">1</tspan>块</text>
<text class="t" x="460.00" y="387.87" font-size="10.4" text-anchor="middle"><tspan letter-spacing="0.62">7</tspan></text>
<text class="t" x="505.00" y="387.87" font-size="10.4" text-anchor="middle">顶锥棚</text>
<text class="t" x="570.00" y="387.87" font-size="10.4" text-anchor="middle"><tspan class="g">δ</tspan><tspan letter-spacing="0.62"> =4</tspan></text>
<text class="t" x="639.50" y="387.87" font-size="10.4" text-anchor="middle">按图制作</text>
<text class="t" x="693.00" y="387.87" font-size="10.4" text-anchor="middle"><tspan letter-spacing="0.62">1</tspan>块</text>
<text class="t" x="460.00" y="401.41" font-size="10.4" text-anchor="middle"><tspan letter-spacing="0.62">6</tspan></text>
<text class="t" x="505.00" y="401.41" font-size="10.4" text-anchor="middle">下锥头</text>
<text class="t" x="570.00" y="401.41" font-size="10.4" text-anchor="middle"><tspan class="g">δ</tspan><tspan letter-spacing="0.62"> =6</tspan></text>
<text class="t" x="639.50" y="401.41" font-size="10.4" text-anchor="middle">按图制作</text>
<text class="t" x="693.00" y="401.41" font-size="10.4" text-anchor="middle"><tspan letter-spacing="0.62">1</tspan>块</text>
<text class="t" x="460.00" y="414.96" font-size="10.4" text-anchor="middle"><tspan letter-spacing="0.62">5</tspan></text>
<text class="t" x="505.00" y="414.96" font-size="10.4" text-anchor="middle">档水锥环</text>
<text class="t" x="570.00" y="414.96" font-size="10.4" text-anchor="middle"><tspan class="g">δ</tspan><tspan letter-spacing="0.62"> =4</tspan></text>
<text class="t" x="639.50" y="414.96" font-size="10.4" text-anchor="middle">按图制作</text>
<text class="t" x="693.00" y="414.96" font-size="10.4" text-anchor="middle"><tspan letter-spacing="0.62">1</tspan>块</text>
<text class="t" x="460.00" y="428.51" font-size="10.4" text-anchor="middle"><tspan letter-spacing="0.62">4</tspan></text>
<text class="t" x="505.00" y="428.51" font-size="10.4" text-anchor="middle">梯杆</text>
<text class="t" x="570.00" y="428.51" font-size="10.4" text-anchor="middle"><tspan letter-spacing="0.62">φ25</tspan>钢管</text>
<text class="t" x="639.50" y="428.51" font-size="10.4" text-anchor="middle"><tspan letter-spacing="0.62">420</tspan></text>
<text class="t" x="693.00" y="428.51" font-size="10.4" text-anchor="middle"><tspan letter-spacing="0.62">35</tspan>根</text>
<text class="t" x="460.00" y="442.06" font-size="10.4" text-anchor="middle"><tspan letter-spacing="0.62">3</tspan></text>
<text class="t" x="505.00" y="442.06" font-size="10.4" text-anchor="middle">吊耳</text>
<text class="t" x="570.00" y="442.06" font-size="10.4" text-anchor="middle"><tspan class="g">δ</tspan><tspan letter-spacing="0.62"> =10</tspan></text>
<text class="t" x="639.50" y="442.06" font-size="10.4" text-anchor="middle">按图制作</text>
<text class="t" x="693.00" y="442.06" font-size="10.4" text-anchor="middle"><tspan letter-spacing="0.62">2</tspan>个</text>
<text class="t" x="460.00" y="455.60" font-size="10.4" text-anchor="middle"><tspan letter-spacing="0.62">2</tspan></text>
<text class="t" x="505.00" y="455.60" font-size="10.4" text-anchor="middle">吊耳贴板</text>
<text class="t" x="570.00" y="455.60" font-size="10.4" text-anchor="middle"><tspan class="g">δ</tspan><tspan letter-spacing="0.62"> =6</tspan></text>
<text class="t" x="639.50" y="455.60" font-size="10.4" text-anchor="middle"><tspan letter-spacing="0.62">200X100</tspan></text>
<text class="t" x="693.00" y="455.60" font-size="10.4" text-anchor="middle"><tspan letter-spacing="0.62">2</tspan>块</text>
<text class="t" x="460.00" y="469.15" font-size="10.4" text-anchor="middle"><tspan letter-spacing="0.62">1</tspan></text>
<text class="t" x="505.00" y="469.15" font-size="10.4" text-anchor="middle">出料装置</text>
<text class="t" x="570.00" y="469.15" font-size="10.4" text-anchor="middle">附图</text>
<text class="t" x="693.00" y="469.15" font-size="10.4" text-anchor="middle"><tspan letter-spacing="0.62">1</tspan>套</text>
<text class="t" x="501.00" y="486.50" font-size="10.6" text-anchor="middle"><tspan letter-spacing="0.62">100</tspan>吨水泥罐</text>
<text class="t" x="609.30" y="487.00" font-size="12.3" text-anchor="middle" letter-spacing="0.85">周口市锦荣仓储设备</text>
<text class="t" x="700.80" y="486.50" font-size="10.6" text-anchor="middle"><tspan letter-spacing="0.62">2010</tspan>年<tspan letter-spacing="0.62">9</tspan>月</text>
</g>
<path d="M729.3,244.3 L729.3,253 L738,253 Z" fill="none" stroke="#d8203c" stroke-width="1.2"/>
</svg>
</body></html>
